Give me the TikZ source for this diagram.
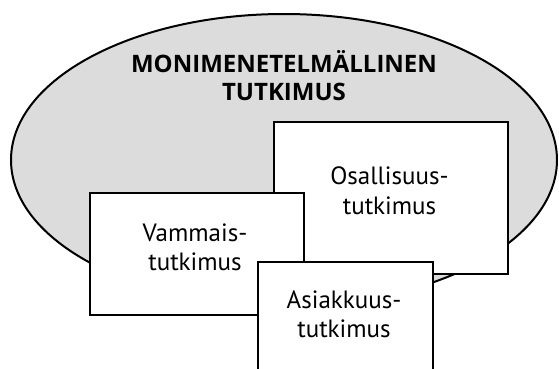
\documentclass[tikz,border=0pt]{standalone}
\usepackage{fontspec}
\setmainfont{PT Sans}
\newfontfamily\titlefont{Open Sans}
\definecolor{ellgray}{HTML}{DCDCDC}
\tikzset{
  boxnode/.style={draw=black, fill=white, line width=2pt, rectangle, inner sep=0pt, anchor=north west},
  bodytext/.style={font=\fontsize{25}{29}\selectfont, align=center, inner sep=0pt, anchor=base},
  titletext/.style={font=\titlefont\bfseries\fontsize{24}{28}\selectfont, align=center, inner sep=0pt, anchor=base}
}
\begin{document}
\begin{tikzpicture}[x=1pt,y=-1pt]
\useasboundingbox (0,0) rectangle (559,368);
\fill[white] (0,0) rectangle (559,368);
% outer ellipse
\draw[line width=2pt, fill=ellgray] (284,160) ellipse [x radius=273pt, y radius=146pt];
\node[titletext] (title1) at (284,72) {MONIMENETELMÄLLINEN};
\node[titletext] (title2) at (284,100) {TUTKIMUS};
% Osallisuus box
\node[boxnode, minimum width=234pt, minimum height=152pt] (osa) at (273,121) {};
\node[bodytext] (osa1) at (389.5,184) {Osallisuus-};
\node[bodytext] (osa2) at (389.5,214) {tutkimus};
% Vammais box
\node[boxnode, minimum width=214pt, minimum height=122pt] (vam) at (89,192) {};
\node[bodytext] (vam1) at (195,241) {Vammais-};
\node[bodytext] (vam2) at (195,270) {tutkimus};
% Asiakkuus box
\node[boxnode, minimum width=175pt, minimum height=120pt] (asi) at (257,261) {};
\node[bodytext] (asi1) at (344,308) {Asiakkuus-};
\node[bodytext] (asi2) at (344,337) {tutkimus};
\end{tikzpicture}
\end{document}
